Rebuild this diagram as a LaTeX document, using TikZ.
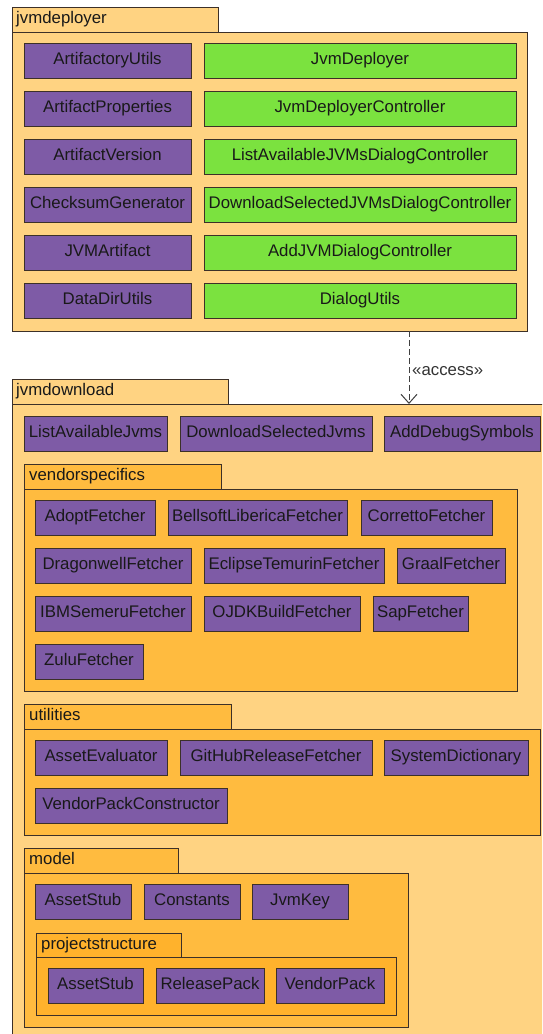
\documentclass[tikz,border=0pt]{standalone}
\usepackage{fontspec}
\setmainfont{Liberation Sans}
\usetikzlibrary{arrows.meta}
\definecolor{pkgouter}{HTML}{FFD382}
\definecolor{pkginner}{HTML}{FFBB3F}
\definecolor{pkgdeep}{HTML}{FFB22C}
\definecolor{clspurple}{HTML}{7E5BA6}
\definecolor{ctlgreen}{HTML}{7BE23F}
\definecolor{edge}{HTML}{3C3028}
\tikzset{
  pkg/.style={draw=edge,line width=1pt},
  pkglabel/.style={anchor=west,inner sep=0pt,text=black!90,text height=12,text depth=3.5},
  cls/.style={draw=edge,line width=1pt,fill=clspurple,minimum height=35,inner xsep=0.5pt,inner ysep=0pt,
    text height=12,text depth=3.5,text=black!90},
  ctl/.style={cls,fill=ctlgreen},
  access/.style={dashed,dash pattern=on 6pt off 3pt,line width=1pt,draw=black!75,-{Straight Barb[length=9pt,width=16pt]}}
}
\begin{document}
\begin{tikzpicture}[x=1pt,y=-1pt,font=\fontsize{16.8}{19}\selectfont]
    \clip (0,0) rectangle (542,1034);
    \fill[white] (0,0) rectangle (542,1034);
    % jvmdeployer
    \draw[pkg,fill=pkgouter] (12,7) rectangle (218,32);
    \draw[pkg,fill=pkgouter] (12,32) rectangle (527,331);
    \node[pkglabel] (deployerlbl) at (16,19.5) {jvmdeployer};
    \foreach \l/\r [count=\i from 0] in {ArtifactoryUtils/JvmDeployer,
        ArtifactProperties/JvmDeployerController,
        ArtifactVersion/ListAvailableJVMsDialogController,
        ChecksumGenerator/DownloadSelectedJVMsDialogController,
        JVMArtifact/AddJVMDialogController,
        DataDirUtils/DialogUtils}{
      \node[cls,minimum width=167] (dl\i) at (107.5,60.5+48*\i) {\l};
      \node[ctl,minimum width=312] (dr\i) at (360,60.5+48*\i) {\r};
    }
    % jvmdownload
    \draw[pkg,fill=pkgouter] (12,379) rectangle (228,404);
    \draw[pkg,fill=pkgouter] (12,404) rectangle (560,1050);
    \node[pkglabel] (downloadlbl) at (16,391.5) {jvmdownload};
    \node[cls,minimum width=143] (listjvms) at (95.5,433.5) {ListAvailableJvms};
    \node[cls,minimum width=192] (dlselected) at (276,433.5) {DownloadSelectedJvms};
    \node[cls,minimum width=156] (debugsym) at (462,433.5) {AddDebugSymbols};
    % access dependency
    \coordinate (accsrc) at (409,331);
    \coordinate (accdst) at (409,404);
    \draw[access] (accsrc) -- (accdst);
    \node[anchor=west,inner sep=0pt,text=black!80] (acclbl) at (412,371) {«access»};
    % vendorspecifics
    \draw[pkg,fill=pkginner] (24,464) rectangle (221,489);
    \draw[pkg,fill=pkginner] (24,489) rectangle (517,691);
    \node[pkglabel] (vendorlbl) at (29,476.5) {vendorspecifics};
    \node[cls,minimum width=120] (adopt) at (95,517.5) {AdoptFetcher};
    \node[cls,minimum width=179] (bellsoft) at (257.5,517.5) {BellsoftLibericaFetcher};
    \node[cls,minimum width=131] (corretto) at (426.5,517.5) {CorrettoFetcher};
    \node[cls,minimum width=156] (dragonwell) at (113,565.5) {DragonwellFetcher};
    \node[cls,minimum width=180] (temurin) at (294,565.5) {EclipseTemurinFetcher};
    \node[cls,minimum width=108] (graal) at (451,565.5) {GraalFetcher};
    \node[cls,minimum width=156] (semeru) at (113,613.5) {IBMSemeruFetcher};
    \node[cls,minimum width=156] (ojdk) at (282,613.5) {OJDKBuildFetcher};
    \node[cls,minimum width=95] (sap) at (420.5,613.5) {SapFetcher};
    \node[cls,minimum width=108] (zulu) at (89,661.5) {ZuluFetcher};
    % utilities
    \draw[pkg,fill=pkginner] (24,704) rectangle (231,729);
    \draw[pkg,fill=pkginner] (24,729) rectangle (540,835);
    \node[pkglabel] (utillbl) at (29,716.5) {utilities};
    \node[cls,minimum width=132] (evaluator) at (101,757.5) {AssetEvaluator};
    \node[cls,minimum width=192] (ghfetcher) at (276,757.5) {GitHubReleaseFetcher};
    \node[cls,minimum width=144] (sysdict) at (456,757.5) {SystemDictionary};
    \node[cls,minimum width=192] (packctor) at (131,805.5) {VendorPackConstructor};
    % model
    \draw[pkg,fill=pkginner] (24,848) rectangle (178,873);
    \draw[pkg,fill=pkginner] (24,873) rectangle (408,1027);
    \node[pkglabel] (modellbl) at (29,860.5) {model};
    \node[cls,minimum width=96] (stubm) at (83,901.5) {AssetStub};
    \node[cls,minimum width=96] (consts) at (192,901.5) {Constants};
    \node[cls,minimum width=96] (jvmkey) at (300,901.5) {JvmKey};
    % projectstructure
    \draw[pkg,fill=pkgdeep] (36,933) rectangle (181,957);
    \draw[pkg,fill=pkgdeep] (36,957) rectangle (396,1015);
    \node[pkglabel] (structlbl) at (41,945) {projectstructure};
    \node[cls,minimum width=95] (stubp) at (95.5,985.5) {AssetStub};
    \node[cls,minimum width=108] (relpack) at (210,985.5) {ReleasePack};
    \node[cls,minimum width=108] (vendpack) at (330,985.5) {VendorPack};
\end{tikzpicture}
\end{document}
